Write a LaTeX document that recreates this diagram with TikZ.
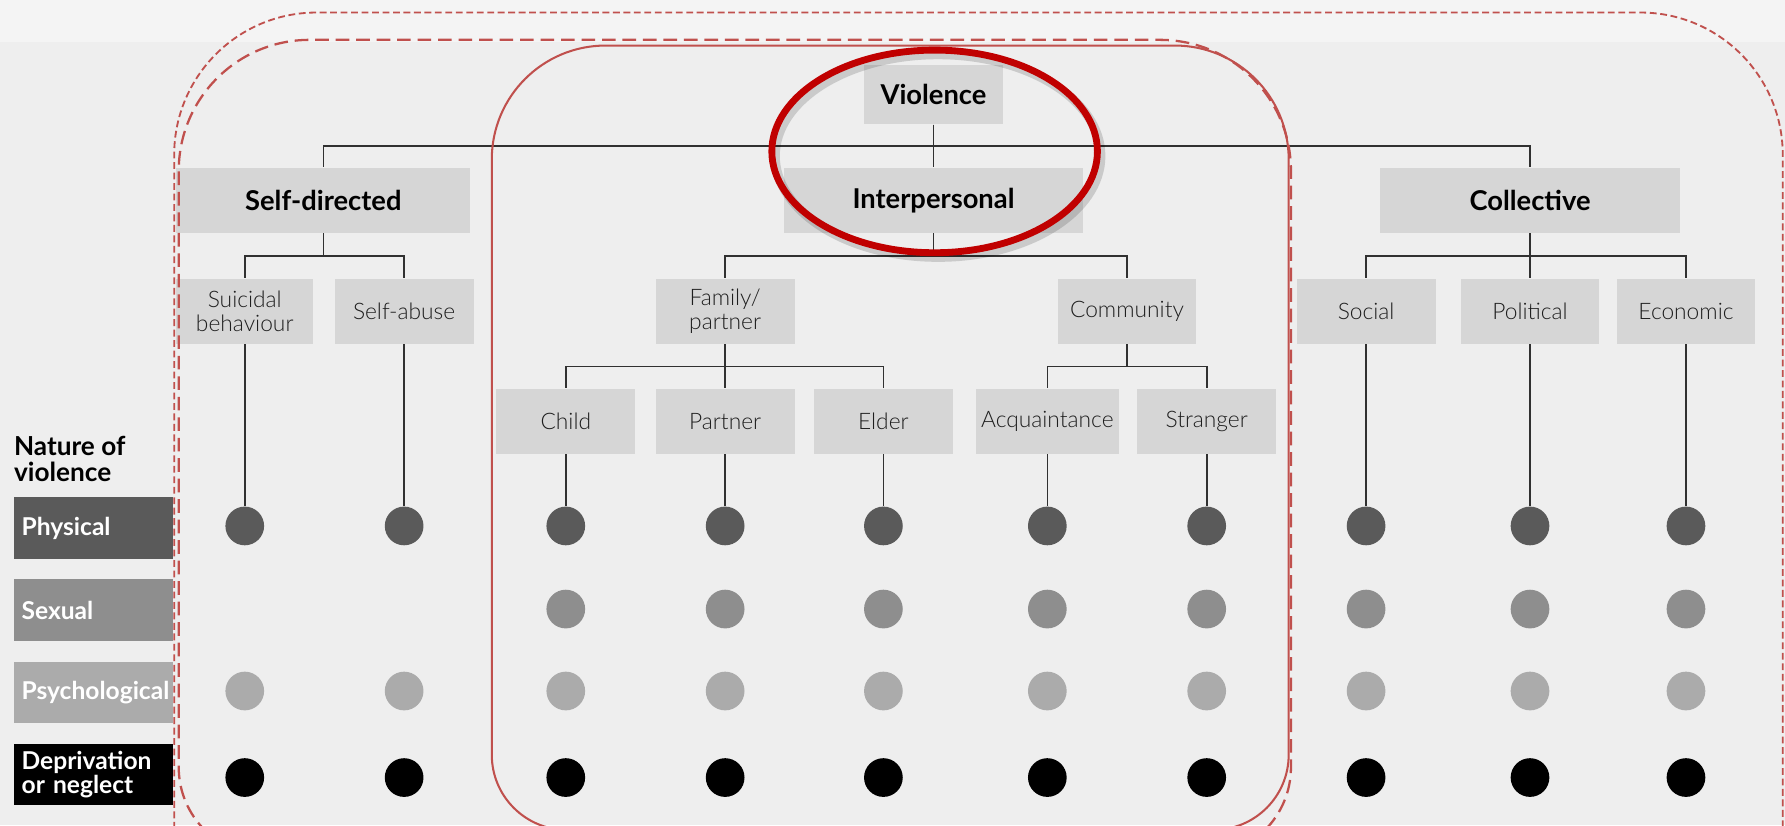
\documentclass[tikz,border=0pt]{standalone}
\usepackage{fontspec}
\setmainfont{Lato}
\IfFontExistsTF{Lato Light}{\newfontfamily\lightfont{Lato Light}}{\newfontfamily\lightfont{Lato}}
\usetikzlibrary{calc}

\definecolor{bg}{HTML}{EEEEEE}
\definecolor{band}{HTML}{F4F4F4}
\definecolor{boxgray}{HTML}{D6D6D6}
\definecolor{wirec}{HTML}{303030}
\definecolor{phys}{HTML}{5A5A5A}
\definecolor{sexc}{HTML}{8E8E8E}
\definecolor{psyc}{HTML}{ABABAB}
\definecolor{accent}{HTML}{C0504D}
\definecolor{ring}{HTML}{C00000}
\definecolor{labeltext}{HTML}{1E1E1E}

\begin{document}
\begin{tikzpicture}[x=0.5pt,y=-0.5pt,
  box/.style={fill=boxgray, inner sep=0pt, minimum height=28.5pt, align=center},
  head/.style={box, font=\bfseries\fontsize{12}{14}\selectfont},
  leaf/.style={box, minimum width=61pt, text=labeltext,
    font=\lightfont\fontsize{10}{10.6}\selectfont},
  wire/.style={draw=wirec, line width=0.7pt},
  dot/.style={circle, inner sep=0pt, minimum size=17pt},
  nat/.style={minimum height=27pt, inner xsep=3.5pt, inner ysep=0pt,
    text width=63pt, align=left, text=white,
    font=\bfseries\fontsize{10.8}{10.8}\selectfont},
  dashA/.style={draw=accent, line width=0.8pt, dash pattern=on 3pt off 1.6pt},
  dashB/.style={draw=accent, line width=1pt, dash pattern=on 6pt off 3pt},
  frame/.style={draw=accent, line width=0.9pt},
]
\useasboundingbox (0,0) rectangle (1568,725);
\fill[bg] (0,0) rectangle (1568,725);
\fill[band] (0,0) rectangle (1568,37);

% bus levels and dot rows
\coordinate (bus0) at (0,128);
\coordinate (bus1) at (0,225);
\coordinate (bus2) at (0,322);
\coordinate (rowP) at (0,462);
\coordinate (rowS) at (0,535);
\coordinate (rowY) at (0,607);
\coordinate (rowD) at (0,683);

% top of the tree
\node[head, minimum width=61pt, minimum height=26pt] (V) at (820,83) {Violence};
\node[head, minimum width=129pt] (SD) at (284,176) {Self-directed};
\node[head, minimum width=131.5pt] (IP) at (820,176) {Interpersonal};
\node[head, minimum width=132pt] (CO) at (1344,176) {Collective};

\draw[wire] (V.south) -- (V.south |- bus0) -| (SD.north);
\draw[wire] (V.south |- bus0) -| (CO.north);
\draw[wire] (V.south) -- (IP.north);

% second level
\node[leaf, minimum width=60pt] (SB) at (215,273.5) {Suicidal\\behaviour};
\node[leaf] (SA) at (355,273.5) {Self-abuse};
\node[leaf] (FP) at (637,273.5) {Family/\\partner};
\node[leaf] (CM) at (990,273.5) {Community};
\node[leaf] (SO) at (1200,273.5) {Social};
\node[leaf] (PO) at (1344,273.5) {Political};
\node[leaf] (EC) at (1481,273.5) {Economic};

\draw[wire] (SD.south) -- (SD.south |- bus1) -| (SB.north);
\draw[wire] (SD.south |- bus1) -| (SA.north);
\draw[wire] (IP.south) -- (IP.south |- bus1) -| (FP.north);
\draw[wire] (IP.south |- bus1) -| (CM.north);
\draw[wire] (CO.south) -- (CO.south |- bus1) -| (SO.north);
\draw[wire] (CO.south |- bus1) -| (EC.north);
\draw[wire] (CO.south |- bus1) -- (PO.north);

% third level
\node[leaf] (CH) at (497,370) {Child};
\node[leaf] (PA) at (637,370) {Partner};
\node[leaf] (EL) at (776,370) {Elder};
\node[leaf, minimum width=63pt] (AC) at (920,370) {Acquaintance};
\node[leaf] (ST) at (1060,370) {Stranger};

\draw[wire] (FP.south) -- (FP.south |- bus2) -| (CH.north);
\draw[wire] (FP.south |- bus2) -| (EL.north);
\draw[wire] (FP.south |- bus2) -- (PA.north);
\draw[wire] (CM.south) -- (CM.south |- bus2) -| (AC.north);
\draw[wire] (CM.south |- bus2) -| (ST.north);

% nature of violence markers
\foreach \n in {SB,SA,CH,PA,EL,AC,ST,SO,PO,EC}{
  \node[dot, fill=phys] (p-\n) at (\n.south |- rowP) {};
  \draw[wire] (\n.south) -- (p-\n.north);
  \node[dot, fill=psyc] (y-\n) at (\n.south |- rowY) {};
  \node[dot, fill=black] (d-\n) at (\n.south |- rowD) {};
}
\foreach \n in {CH,PA,EL,AC,ST,SO,PO,EC}{
  \node[dot, fill=sexc] (s-\n) at (\n.south |- rowS) {};
}

% legend on the left
\node[anchor=north west, align=left, inner sep=0pt,
  font=\bfseries\fontsize{11.5}{11.5}\selectfont] (NT) at (12,383) {Nature of\\violence};
\node[nat, fill=phys] (LP) at (82,464) {Physical};
\node[nat, fill=sexc] (LS) at (82,536) {Sexual};
\node[nat, fill=psyc] (LY) at (82,608.5) {Psychological};
\node[nat, fill=black] (LD) at (82,680.5) {Deprivation\\or neglect};

% grouping outlines
\begin{scope}
\clip (0,0) rectangle (1568,725);
\path[dashA] (153,820) -- (153,136) arc[start angle=180, end angle=90, radius=62.5pt]
  -- (1441,11) arc[start angle=90, end angle=0, radius=62.5pt] -- (1566,820);
\path[dashB] (645,752) -- (235,752) arc[start angle=270, end angle=180, radius=39pt]
  -- (157,150) arc[start angle=180, end angle=90, radius=57.5pt]
  -- (1019,35) arc[start angle=90, end angle=0, radius=57.5pt]
  -- (1134,674) arc[start angle=0, end angle=-90, radius=39pt] -- cycle;
\path[frame] (782,729) -- (498,729) arc[start angle=270, end angle=180, radius=33pt]
  -- (432,140) arc[start angle=180, end angle=90, radius=50pt]
  -- (1032,40) arc[start angle=90, end angle=0, radius=50pt]
  -- (1132,663) arc[start angle=0, end angle=-90, radius=33pt] -- cycle;
\end{scope}

% highlight ring round the root
\draw[black, opacity=0.15, line width=4pt] (824,137) ellipse [x radius=71.5pt, y radius=44.5pt];
\draw[ring, line width=3pt] (821,133) ellipse [x radius=71.5pt, y radius=44.5pt];
\end{tikzpicture}
\end{document}
